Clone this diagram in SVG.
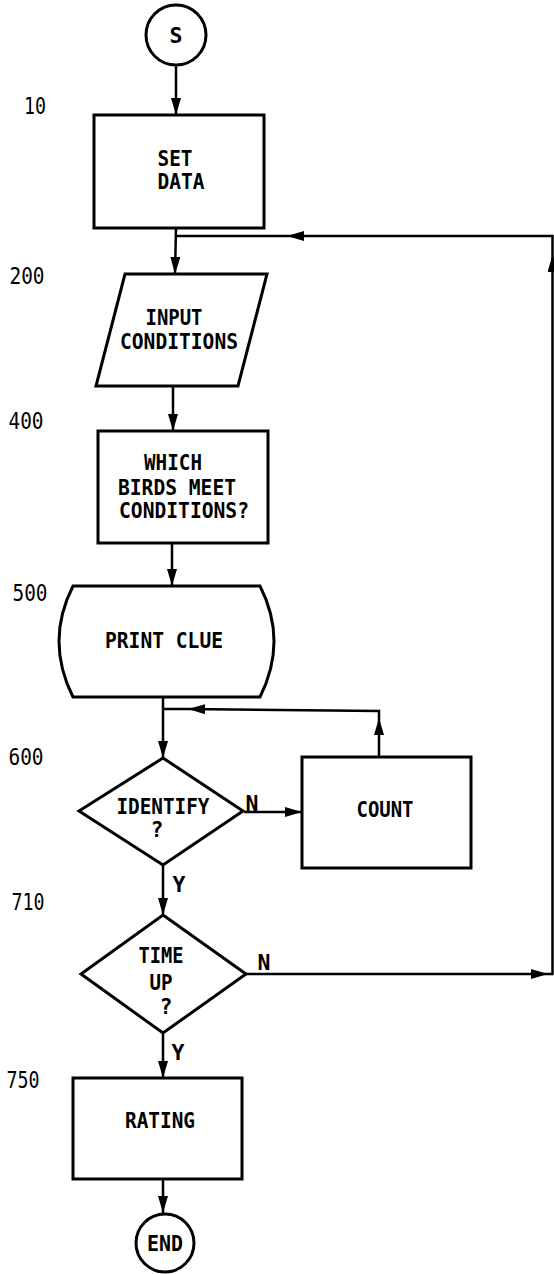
<svg xmlns="http://www.w3.org/2000/svg" width="554" height="1274" viewBox="0 0 554 1274">
<style>
.shape{fill:#fff;stroke:#000;stroke-width:3;stroke-linejoin:miter}
.con{fill:none;stroke:#000;stroke-width:2.5}
.arr{marker-end:url(#ah)}
text{font-family:"DejaVu Sans Mono","Liberation Mono",monospace;font-size:21.5px;font-weight:bold;fill:#000;text-anchor:middle}
.num{font-weight:normal;font-size:23px}
</style>
<defs>
<marker id="ah" viewBox="0 0 17 10" refX="17" refY="5" markerWidth="17" markerHeight="10" markerUnits="userSpaceOnUse" orient="auto">
<path d="M0,0 L17,5 L0,10 Z" fill="#000"/>
</marker>
</defs>
<rect width="554" height="1274" fill="#fff"/>
<g id="connectors">
<path class="con arr" d="M176,65 L176,115"/>
<path class="con arr" d="M176,228 L175,274"/>
<path class="con arr" d="M173,386 L173,431"/>
<path class="con arr" d="M172,543 L172,586"/>
<path class="con arr" d="M163,697 L163,758"/>
<path class="con arr" d="M244,812 L302,812"/>
<path class="con arr" d="M379,757 L379,718"/>
<path class="con arr" d="M379,718 L379,711 L188,709"/>
<path class="con" d="M188,709 L163,709"/>
<path class="con arr" d="M163,865 L163,915"/>
<path class="con arr" d="M246,974 L548,974"/>
<path class="con arr" d="M548,974 L552.5,974 L552.5,255"/>
<path class="con arr" d="M552.5,255 L552.5,236 L287,236"/>
<path class="con" d="M287,236 L176,236"/>
<path class="con arr" d="M163,1033 L163,1078"/>
<path class="con arr" d="M163,1179 L163,1213"/>
</g>
<g id="labels">
<text class="num" x="35" y="114" textLength="22" lengthAdjust="spacingAndGlyphs">10</text>
<text class="num" x="27" y="284" textLength="35" lengthAdjust="spacingAndGlyphs">200</text>
<text class="num" x="26" y="429" textLength="35" lengthAdjust="spacingAndGlyphs">400</text>
<text class="num" x="30" y="601" textLength="35" lengthAdjust="spacingAndGlyphs">500</text>
<text class="num" x="26" y="765" textLength="35" lengthAdjust="spacingAndGlyphs">600</text>
<text class="num" x="28" y="910" textLength="33" lengthAdjust="spacingAndGlyphs">710</text>
<text class="num" x="23" y="1088" textLength="33" lengthAdjust="spacingAndGlyphs">750</text>
<text x="252" y="811">N</text>
<text x="179" y="892">Y</text>
<text x="264" y="970">N</text>
<text x="178" y="1060">Y</text>
</g>
<g id="start">
<circle class="shape" cx="176" cy="35" r="30"/>
<text x="176" y="43">S</text>
</g>
<g id="set-data">
<rect class="shape" x="94" y="115" width="170" height="113"/>
<text x="175" y="166" textLength="35" lengthAdjust="spacingAndGlyphs">SET</text>
<text x="181" y="189" textLength="47" lengthAdjust="spacingAndGlyphs">DATA</text>
</g>
<g id="input-conditions">
<path class="shape" d="M125,274 L267,274 L238,386 L96,386 Z"/>
<text x="174" y="325" textLength="57" lengthAdjust="spacingAndGlyphs">INPUT</text>
<text x="179" y="349" textLength="118" lengthAdjust="spacingAndGlyphs">CONDITIONS</text>
</g>
<g id="which-birds">
<rect class="shape" x="98" y="431" width="170" height="112"/>
<text x="173" y="470" textLength="58" lengthAdjust="spacingAndGlyphs">WHICH</text>
<text x="177" y="495" textLength="118" lengthAdjust="spacingAndGlyphs">BIRDS MEET</text>
<text x="184" y="518" textLength="130" lengthAdjust="spacingAndGlyphs">CONDITIONS?</text>
</g>
<g id="print-clue">
<path class="shape" d="M73,586 L260,586 Q288,641 260,697 L73,697 Q45,641 73,586 Z"/>
<text x="164" y="648" textLength="118" lengthAdjust="spacingAndGlyphs">PRINT CLUE</text>
</g>
<g id="identify">
<path class="shape" d="M163,758 L243,811 L163,865 L79,811 Z"/>
<text x="163" y="814" textLength="93" lengthAdjust="spacingAndGlyphs">IDENTIFY</text>
<text x="157" y="837">?</text>
</g>
<g id="count">
<rect class="shape" x="302" y="757" width="169" height="111"/>
<text x="385" y="817" textLength="57" lengthAdjust="spacingAndGlyphs">COUNT</text>
</g>
<g id="time-up">
<path class="shape" d="M163,915 L246,974 L163,1033 L81,974 Z"/>
<text x="161" y="963" textLength="45" lengthAdjust="spacingAndGlyphs">TIME</text>
<text x="161" y="990" textLength="23" lengthAdjust="spacingAndGlyphs">UP</text>
<text x="166" y="1014">?</text>
</g>
<g id="rating">
<rect class="shape" x="73" y="1078" width="169" height="101"/>
<text x="160" y="1128" textLength="70" lengthAdjust="spacingAndGlyphs">RATING</text>
</g>
<g id="end">
<circle class="shape" cx="165" cy="1243" r="29"/>
<text x="165" y="1251" textLength="36" lengthAdjust="spacingAndGlyphs">END</text>
</g>
</svg>
